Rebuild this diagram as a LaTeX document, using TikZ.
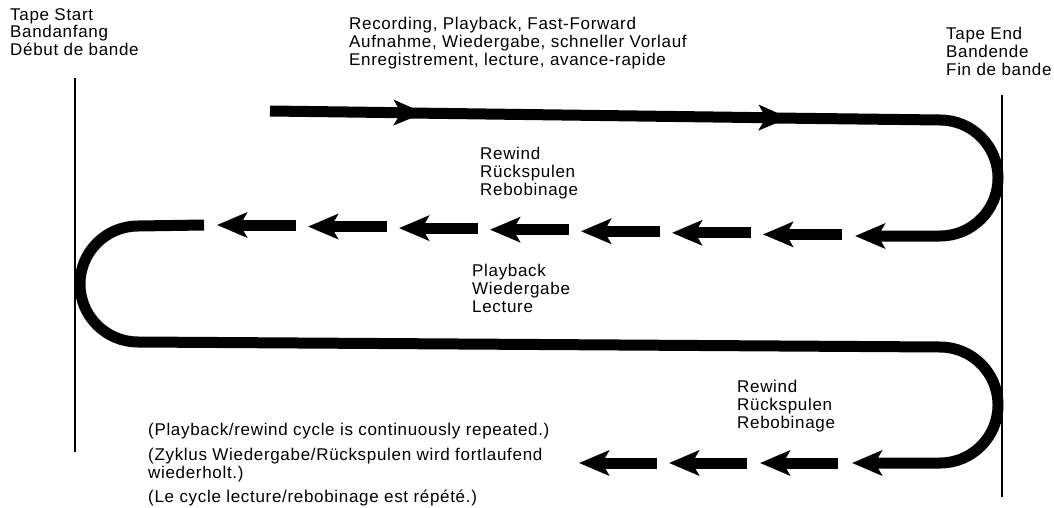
\documentclass[tikz,border=0pt]{standalone}
\usepackage{fontspec}
\setmainfont{Liberation Sans}[LetterSpace=4]
\usepackage{tikz}
\usetikzlibrary{arrows.meta,positioning,calc}

\tikzset{
  tape/.style={line width=11pt},
  tapehead/.style={-{Stealth[length=30pt,width=25pt,inset=7pt]}},
  endline/.style={line width=2pt},
  lbl/.style={font=\fontsize{17}{17.8}\selectfont, align=left, anchor=north west, inner sep=0pt}
}

\begin{document}
\begin{tikzpicture}[x=1pt, y=-1pt]
    \useasboundingbox (0,0) rectangle (1054,508);

    % Tape start and tape end
    \draw [endline] (75,78) -- (75,452);
    \draw [endline] (1002,95) -- (1002,497);
    \node [lbl] (start) at (10,8) {Tape Start\\Bandanfang\\Début de bande};
    \node [lbl] (end) at (946,27) {Tape End\\Bandende\\Fin de bande};

    % Recording, playback, fast-forward
    \node [lbl] (rec) at (349,17) {Recording, Playback, Fast-Forward\\Aufnahme, Wiedergabe, schneller Vorlauf\\Enregistrement, lecture, avance-rapide};
    \draw [tape, tapehead] (270,111) -- (424,113);
    \draw [tape, tapehead] (410,113) -- (789,118);
    \draw [tape, tapehead] (775,118) -- (940,120) arc (-90:90:58) -- (855,236);

    % Rewind (dashed run)
    \node [lbl] (rew) at (480,147) {Rewind\\Rückspulen\\Rebobinage};
    \foreach \t in {217,308,399,490,581,672,763} {
        \pgfmathsetmacro\ya{225+(\t-217)*0.0172}
        \draw [tape, tapehead] (\t+79,\ya) -- (\t,\ya);
    }

    % Playback
    \node [lbl] (play) at (472,264) {Playback\\Wiedergabe\\Lecture};
    \draw [tape, tapehead] (204,225) -- (138,226) arc (-90:-270:58) -- (940,347) arc (-90:90:58) -- (852,463);

    % Rewind again, cycle repeats
    \node [lbl] (rew2) at (737,380) {Rewind\\Rückspulen\\Rebobinage};
    \foreach \t in {579,669,760}
        \draw [tape, tapehead] (\t+78,463) -- (\t,463);
    \node [lbl] (cycle) at (148,423) {(Playback/rewind cycle is continuously repeated.)\\[7pt](Zyklus Wiedergabe/Rückspulen wird fortlaufend\\wiederholt.)\\[7pt](Le cycle lecture/rebobinage est répété.)};
\end{tikzpicture}
\end{document}
